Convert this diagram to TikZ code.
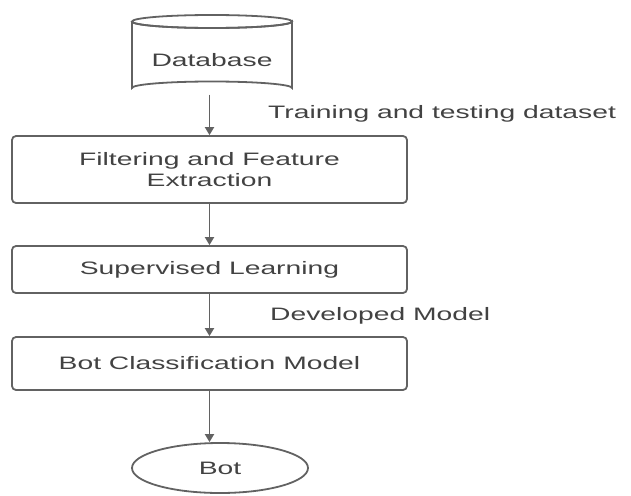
\documentclass[tikz,border=0pt]{standalone}
\usepackage{fontspec}
\setmainfont{Liberation Sans}[FakeStretch=1.57]
\usetikzlibrary{arrows.meta,shapes.geometric}
\definecolor{linegray}{HTML}{626262}
\definecolor{textgray}{HTML}{424242}
\begin{document}
\begin{tikzpicture}[x=1pt,y=-1pt,
  every node/.style={text=textgray,font=\fontsize{18}{21}\selectfont},
  procbox/.style={draw=linegray,line width=1.8pt,rounded corners=4pt,minimum width=395pt,align=center,inner sep=0pt},
  flow/.style={draw=linegray,line width=1.8pt,-{Triangle[length=8pt,width=9pt]}},
  lbl/.style={anchor=west,inner sep=0pt}]
\useasboundingbox (0,0) rectangle (631,495);
% database cylinder
\draw[linegray,line width=1.8pt,fill=white]
  (132,21.5) -- (132,88) arc[start angle=180,end angle=360,x radius=80,y radius=6.5]
  -- (292,21.5) arc[start angle=0,end angle=180,x radius=80,y radius=6.5];
\draw[linegray,line width=1.8pt] (212,21.5) ellipse[x radius=80,y radius=6.5];
\node[minimum width=160pt,minimum height=81pt,inner sep=0pt] (db) at (212,54) {};
\node (dbt) at (212,60) {Database};
\node[procbox,minimum height=67pt] (fe) at (209.5,169.5) {Filtering and Feature\\Extraction};
\node[procbox,minimum height=47pt] (sl) at (209.5,269.5) {Supervised Learning};
\node[procbox,minimum height=53pt] (bc) at (209.5,363.5) {Bot Classification Model};
\node[draw=linegray,line width=1.8pt,ellipse,minimum width=176pt,minimum height=50pt,inner sep=0pt] (bot) at (220,468) {Bot};
\draw[flow] (db.south -| fe.north) -- (fe.north);
\draw[flow] (fe.south) -- (sl.north);
\draw[flow] (sl.south) -- (bc.north);
\draw[flow] (bc.south) -- (bc.south |- bot.north);
\node[lbl] (l1) at (268,114) {Training and testing dataset};
\node[lbl] (l2) at (270,316) {Developed Model};
\end{tikzpicture}
\end{document}
